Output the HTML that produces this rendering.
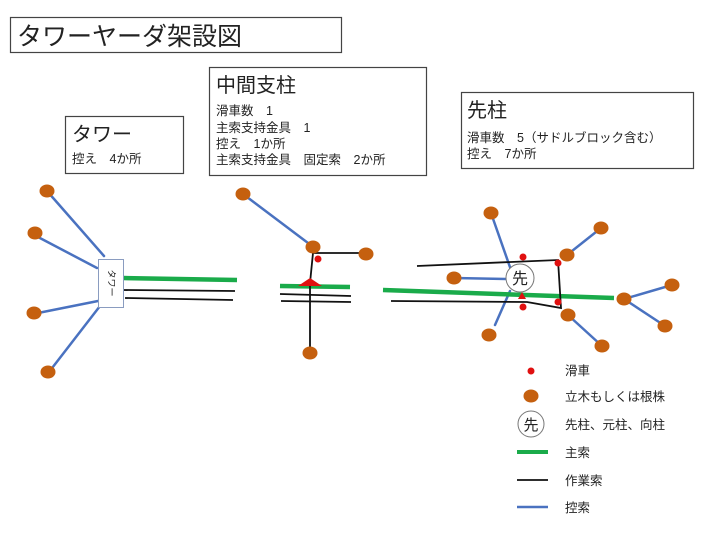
<!DOCTYPE html>
<html><head><meta charset="utf-8"><style>
html,body{margin:0;padding:0;background:#fff;width:720px;height:540px;overflow:hidden}
svg{display:block}
text{font-family:"Liberation Sans","Noto Sans CJK JP",sans-serif;fill:#222}
</style></head><body>
<svg width="720" height="540" viewBox="0 0 720 540" xmlns="http://www.w3.org/2000/svg">
<g fill="#fff" stroke="#444" stroke-width="1.2">
<rect x="10.5" y="17.5" width="331" height="35"/>
<rect x="65.5" y="116.5" width="118" height="57"/>
<rect x="209.5" y="67.5" width="217" height="108"/>
<rect x="461.5" y="92.5" width="232" height="76"/>
</g>
<text x="17" y="45" font-size="25">タワーヤーダ架設図</text>
<text x="72" y="141" font-size="20">タワー</text>
<text x="72" y="163" font-size="12.5">控え　4か所</text>
<text x="216" y="92" font-size="20">中間支柱</text>
<text x="216" y="115" font-size="12.5">滑車数　1</text>
<text x="216" y="132" font-size="12.5">主索支持金具　1</text>
<text x="216" y="148" font-size="12.5">控え　1か所</text>
<text x="216" y="164" font-size="12.5">主索支持金具　固定索　2か所</text>
<text x="467" y="117" font-size="20">先柱</text>
<text x="467" y="142" font-size="12.5">滑車数　5（サドルブロック含む）</text>
<text x="467" y="158" font-size="12.5">控え　7か所</text>

<!-- blue guys -->
<g stroke="#4a72c0" stroke-width="2.5" stroke-linecap="round">
<line x1="47" y1="191" x2="104" y2="256"/>
<line x1="38" y1="237" x2="97" y2="268"/>
<line x1="38" y1="313" x2="98" y2="301"/>
<line x1="49" y1="372" x2="100" y2="306"/>
<line x1="243" y1="194" x2="312" y2="246"/>
<line x1="491" y1="213" x2="511" y2="270"/>
<line x1="454" y1="278" x2="506" y2="279"/>
<line x1="495" y1="325" x2="510" y2="291"/>
<line x1="567" y1="255" x2="601" y2="228"/>
<line x1="568" y1="315" x2="602" y2="346"/>
<line x1="624" y1="299" x2="672" y2="285"/>
<line x1="624" y1="299" x2="665" y2="326"/>
</g>
<!-- green main -->
<g stroke="#1aab4a" stroke-width="4.5">
<line x1="123" y1="278" x2="237" y2="280"/>
<line x1="280" y1="286" x2="350" y2="287"/>
<line x1="383" y1="290" x2="614" y2="298"/>
</g>
<!-- black -->
<g stroke="#111" stroke-width="1.8" fill="none">
<line x1="123" y1="290" x2="235" y2="291"/>
<line x1="125" y1="298" x2="233" y2="300"/>
<line x1="280" y1="294" x2="351" y2="296"/>
<line x1="281" y1="301" x2="351" y2="302"/>
<polyline points="313,253 310,283 310,353"/>
<line x1="312" y1="253" x2="366" y2="253"/>
<polyline points="417,266 558,260 561,308 527,302 391,301"/>
</g>
<!-- tower -->
<rect x="98.5" y="259.5" width="25" height="48" fill="#fff" stroke="#8a9cc0" stroke-width="1"/>
<text x="111" y="283" font-size="9" text-anchor="middle" transform="rotate(90 111 283)" dominant-baseline="middle">タワー</text>
<!-- red -->
<g fill="#e01010">
<polygon points="298,286 310,278 322,286"/>
<polygon points="518,299 522,292 526,299"/>
<circle cx="318" cy="259" r="3.5"/>
<circle cx="523" cy="257" r="3.5"/>
<circle cx="558" cy="263" r="3.5"/>
<circle cx="558" cy="302" r="3.5"/>
<circle cx="523" cy="307" r="3.5"/>
<circle cx="531" cy="371" r="3.5"/>
</g>
<!-- brown nodes -->
<g fill="#c5600f">
<ellipse cx="47" cy="191" rx="7.5" ry="6.5"/>
<ellipse cx="35" cy="233" rx="7.5" ry="6.5"/>
<ellipse cx="34" cy="313" rx="7.5" ry="6.5"/>
<ellipse cx="48" cy="372" rx="7.5" ry="6.5"/>
<ellipse cx="243" cy="194" rx="7.5" ry="6.5"/>
<ellipse cx="313" cy="247" rx="7.5" ry="6.5"/>
<ellipse cx="366" cy="254" rx="7.5" ry="6.5"/>
<ellipse cx="310" cy="353" rx="7.5" ry="6.5"/>
<ellipse cx="491" cy="213" rx="7.5" ry="6.5"/>
<ellipse cx="601" cy="228" rx="7.5" ry="6.5"/>
<ellipse cx="567" cy="255" rx="7.5" ry="6.5"/>
<ellipse cx="454" cy="278" rx="7.5" ry="6.5"/>
<ellipse cx="672" cy="285" rx="7.5" ry="6.5"/>
<ellipse cx="624" cy="299" rx="7.5" ry="6.5"/>
<ellipse cx="665" cy="326" rx="7.5" ry="6.5"/>
<ellipse cx="568" cy="315" rx="7.5" ry="6.5"/>
<ellipse cx="489" cy="335" rx="7.5" ry="6.5"/>
<ellipse cx="602" cy="346" rx="7.5" ry="6.5"/>
<ellipse cx="531" cy="396" rx="7.5" ry="6.5"/>
</g>
<!-- 先 circle -->
<circle cx="520" cy="278" r="14" fill="#fff" stroke="#777" stroke-width="1"/>
<text x="520" y="284" font-size="16" text-anchor="middle">先</text>
<circle cx="531" cy="424" r="13" fill="#fff" stroke="#777" stroke-width="1"/>
<text x="531" y="430" font-size="15" text-anchor="middle">先</text>
<!-- legend -->
<line x1="517" y1="452" x2="548" y2="452" stroke="#1aab4a" stroke-width="4"/>
<line x1="517" y1="480" x2="548" y2="480" stroke="#111" stroke-width="1.8"/>
<line x1="517" y1="507" x2="548" y2="507" stroke="#4a72c0" stroke-width="2.5"/>
<g font-size="12.5">
<text x="565" y="375">滑車</text>
<text x="565" y="401">立木もしくは根株</text>
<text x="565" y="429">先柱、元柱、向柱</text>
<text x="565" y="457">主索</text>
<text x="565" y="485">作業索</text>
<text x="565" y="512">控索</text>
</g>
</svg>
</body></html>
